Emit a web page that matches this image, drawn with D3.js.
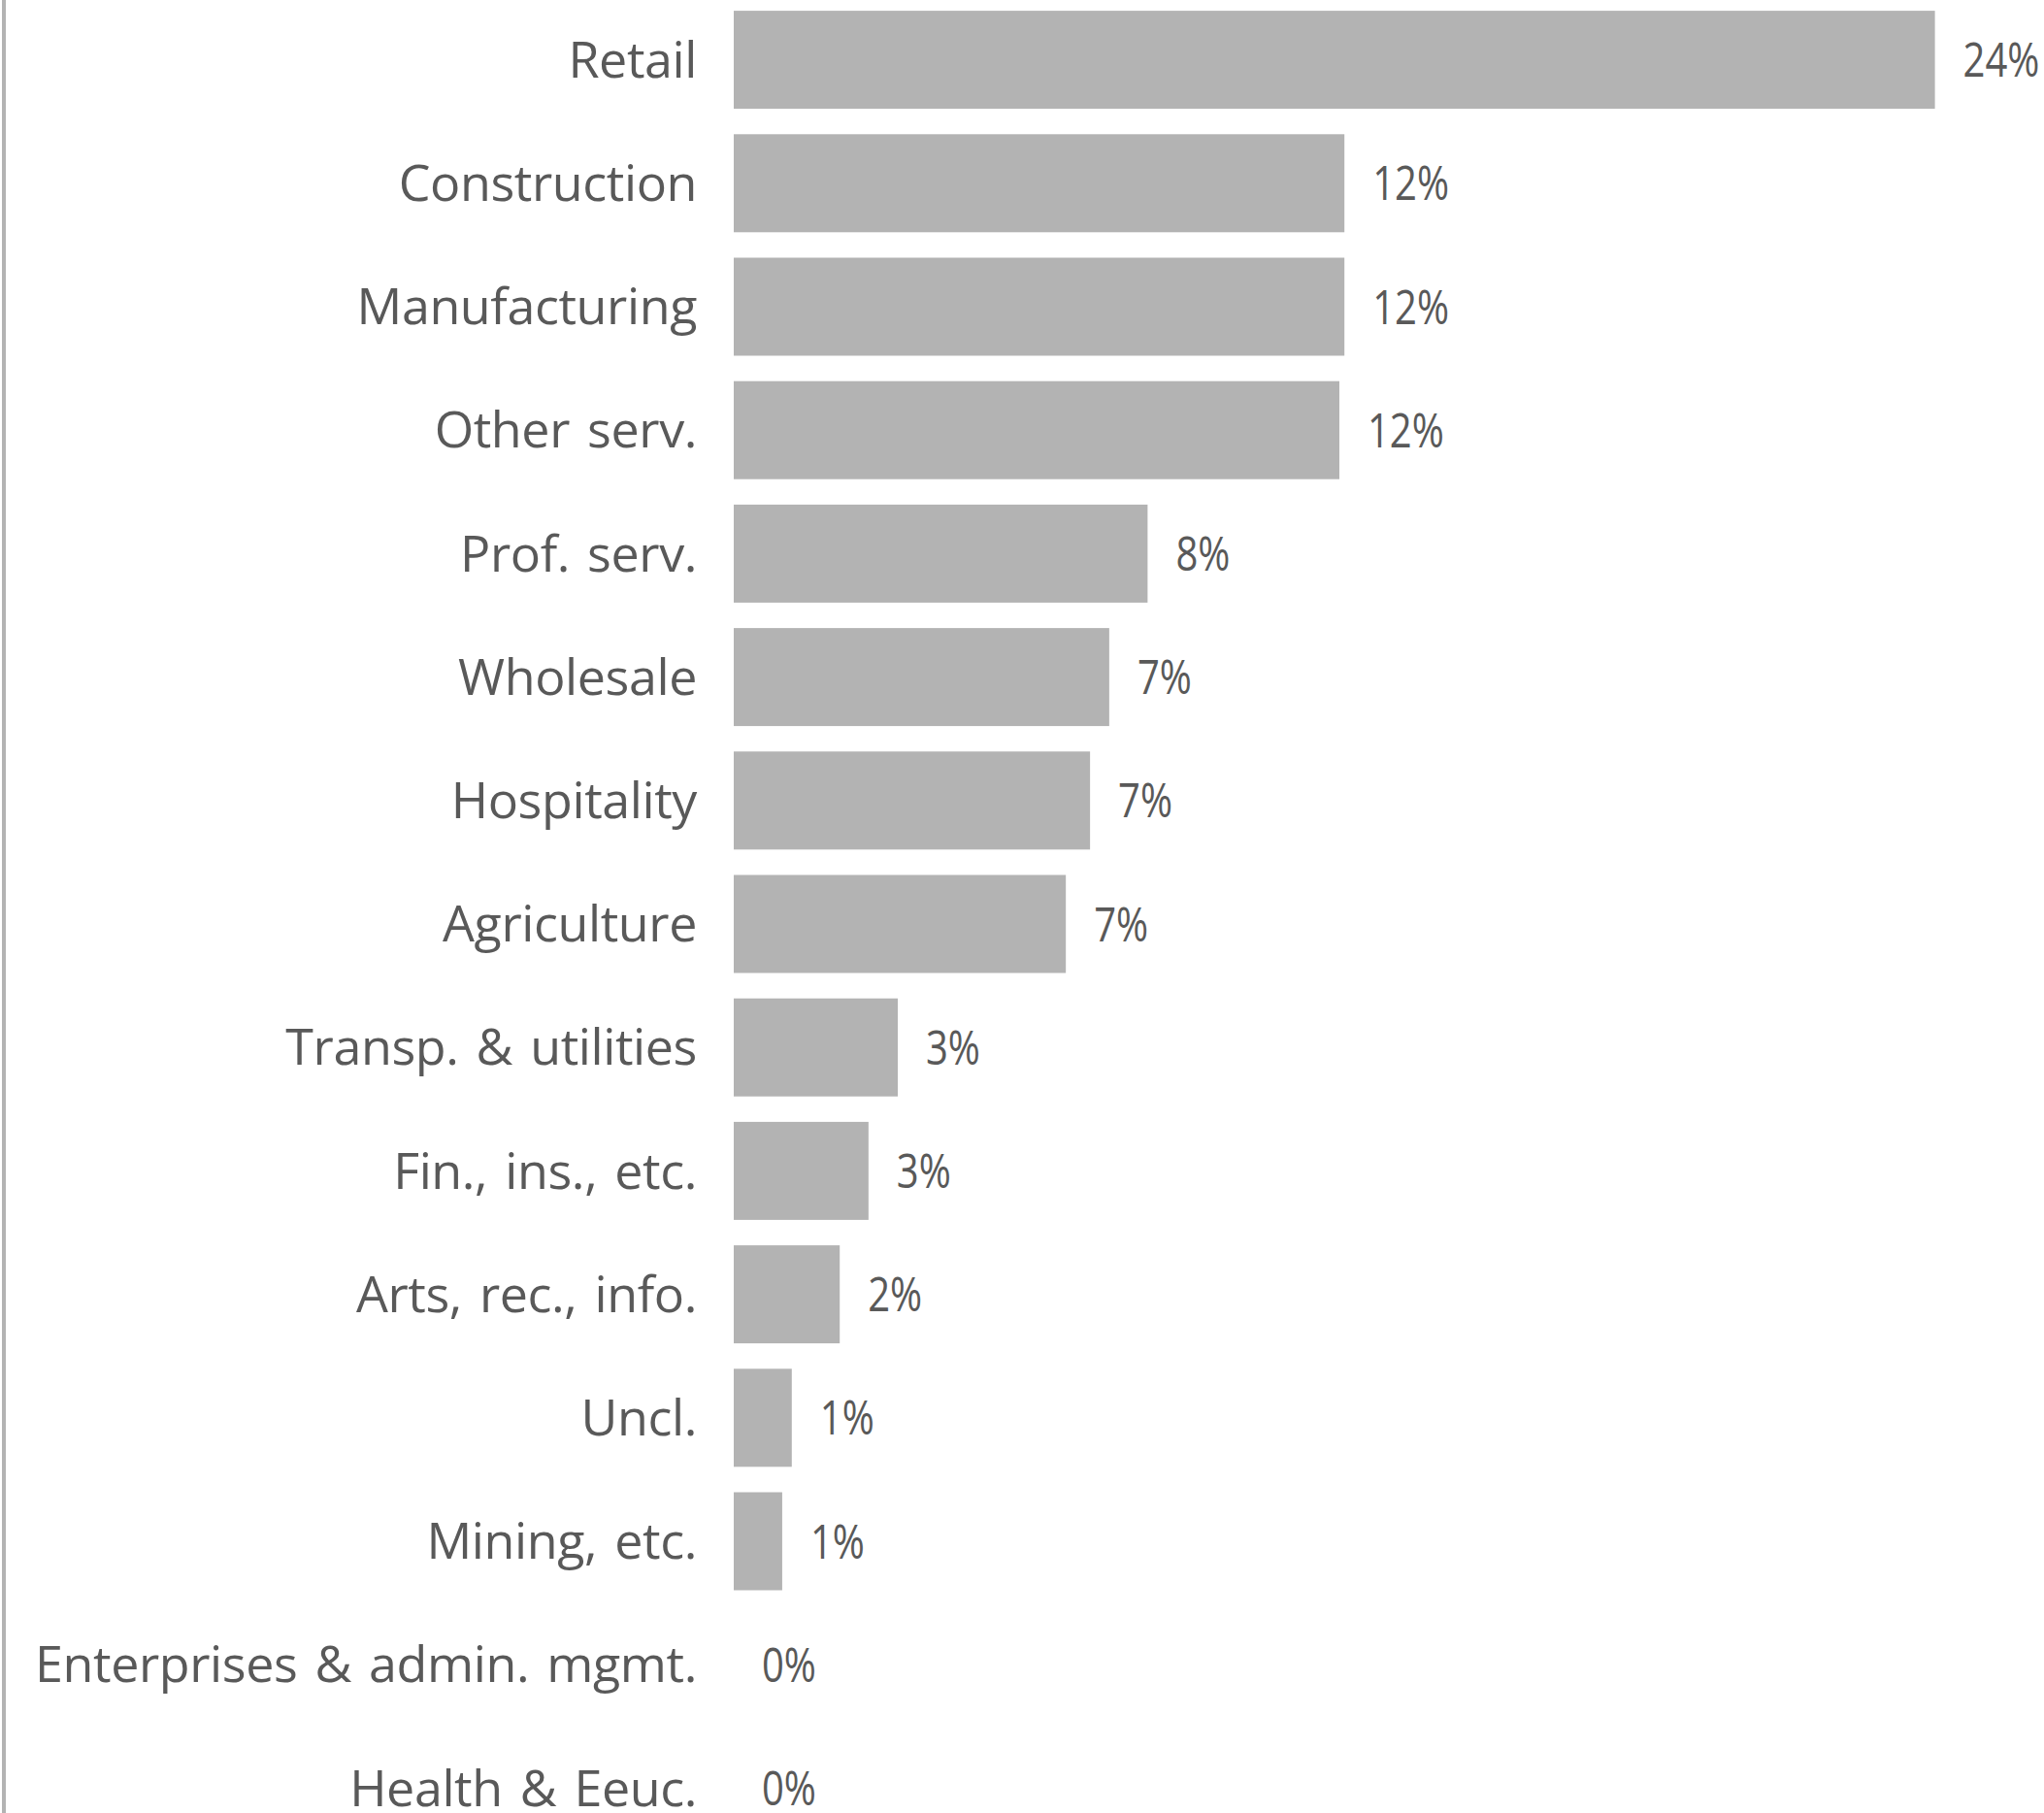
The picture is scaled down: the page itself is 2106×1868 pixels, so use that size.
<!DOCTYPE html>
<html>
<head>
<meta charset="utf-8">
<script src="https://cdn.jsdelivr.net/npm/d3@7"></script>
<style>
  body { margin: 0; background: #fff; }
  .cat-label, .val-label { font-family: "Open Sans", "Noto Sans", sans-serif; fill: #595959; }
</style>
</head>
<body>
<div class="chart"></div>
<script>
var width = 2106, height = 1868;

var categories = ["Retail", "Construction", "Manufacturing", "Other serv.", "Prof. serv.",
  "Wholesale", "Hospitality", "Agriculture", "Transp. & utilities", "Fin., ins., etc.",
  "Arts, rec., info.", "Uncl.", "Mining, etc.", "Enterprises & admin. mgmt.", "Health & Eeuc."];

var shares = [0.238, 0.121, 0.121, 0.120, 0.082, 0.0744, 0.0706, 0.0658, 0.0325, 0.0267,
  0.021, 0.0115, 0.0096, 0, 0];

var data = categories.map(function(c, i){ return {name: c, value: shares[i]}; });

var bar_left = 756;

var svg = d3.select(".chart").append("svg")
    .attr("width", width)
    .attr("height", height);

var x = d3.scaleLinear()
    .domain([0, 0.25])
    .range([bar_left, bar_left + 1300]);

// the band runs past the bottom of the picture, the last row is cut off
var y = d3.scaleBand()
    .domain(categories)
    .range([-2, 1906])
    .paddingInner(0.206)
    .paddingOuter(0.103);

var fmt = d3.format(".0%");

// left border line
svg.append("line")
    .attr("x1", 4).attr("x2", 4)
    .attr("y1", 0).attr("y2", height)
    .attr("stroke", "#b3b3b3")
    .attr("stroke-width", 4);

svg.selectAll(".bar")
    .data(data)
  .enter().append("rect")
    .attr("class", "bar")
    .attr("x", x(0))
    .attr("y", function(d){ return y(d.name); })
    .attr("width", function(d){ return x(d.value) - x(0); })
    .attr("height", y.bandwidth())
    .attr("fill", "#b3b3b3");

svg.selectAll(".cat-label")
    .data(data)
  .enter().append("text")
    .attr("class", "cat-label")
    .attr("x", bar_left - 38)
    .attr("y", function(d){ return y(d.name) + y.bandwidth() / 2; })
    .attr("dy", "0.35em")
    .style("text-anchor", "end")
    .style("font-size", "52px")
    .style("letter-spacing", "-0.4px")
    .style("word-spacing", "5px")
    .text(function(d){ return d.name; });

// the value labels are set in a narrow face, so squeeze them a bit
svg.selectAll(".val-label")
    .data(data)
  .enter().append("text")
    .attr("class", "val-label")
    .attr("transform", function(d){
      return "translate(" + (x(d.value) + 29) + "," + (y(d.name) + y.bandwidth() / 2) + ") scale(0.8,1)";
    })
    .attr("dy", "0.35em")
    .style("font-size", "50px")
    .text(function(d){ return fmt(d.value); });
</script>
</body>
</html>
